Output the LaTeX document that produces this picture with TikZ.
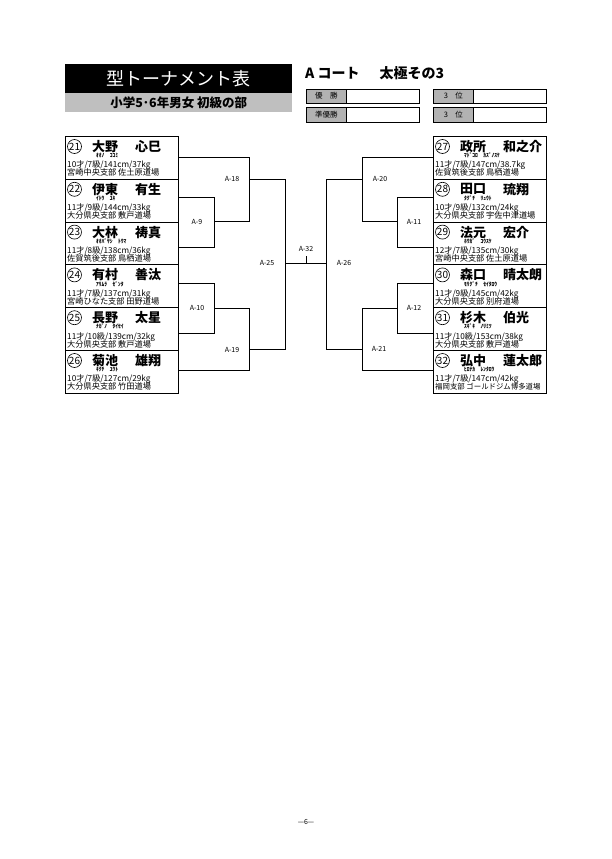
\documentclass[tikz,border=0pt]{standalone}
\usepackage{fontspec}
\setmainfont{Noto Sans CJK JP}
\usetikzlibrary{calc}
\newcommand{\fsz}[1]{\fontsize{#1bp}{#1bp}\selectfont}
\tikzset{
  x=1bp, y=-1bp,
  entry/.style={draw, line width=0.8bp, minimum width=113bp, minimum height=42.8bp, inner sep=0, anchor=north west},
  num/.style={draw, circle, line width=0.6bp, minimum size=14bp, inner sep=0, font=\fsz{10}},
  nm/.style={anchor=west, inner sep=0, font=\fsz{13}\bfseries},
  furi/.style={anchor=west, inner sep=0, font=\fsz{5.5}\bfseries},
  stat/.style={anchor=west, inner sep=0, font=\fsz{8.2}},
  dojo/.style={anchor=west, inner sep=0, font=\fsz{8.2}},
  br/.style={line width=0.6bp},
  mlabel/.style={font=\fsz{7}, inner sep=0},
  reslab/.style={draw, line width=0.7bp, fill=black!30, minimum width=40bp, minimum height=14.5bp, inner sep=0, anchor=north west, font=\fsz{7.5}},
  resval/.style={draw, line width=0.7bp, fill=white, minimum width=73bp, minimum height=14.5bp, inner sep=0, anchor=north west},
}
% #1 name, #2 x, #3 y, #4 number, #5 surname, #6 given, #7 furigana, #8 stats, #9 dojo
\newcommand{\entrybox}[9]{%
  \node[entry] (#1) at (#2,#3) {};
  \node[num] (#1c) at ($(#1.north west)+(9.5,10.5)$) {#4};
  \node[nm] (#1s) at ($(#1.north west)+(27,10.5)$) {#5};
  \node[nm] (#1g) at ($(#1.north west)+(70,10.5)$) {#6};
  \node[furi] (#1f) at ($(#1.north west)+(31,19.5)$) {#7};
  \node[stat] (#1t) at ($(#1.north west)+(2,29.5)$) {#8};
  \node[dojo] (#1d) at ($(#1.north west)+(2,36.8)$) {#9};
}
\begin{document}
\begin{tikzpicture}
\useasboundingbox (0,0) rectangle (612,859);
\fill[white] (0,0) rectangle (612,859);

% header
\node[fill=black, minimum width=227bp, minimum height=29bp, inner sep=0, anchor=north west,
      text=white, font=\fsz{18}] (title) at (65,64) {型トーナメント表};
\node[fill=black!25, minimum width=227bp, minimum height=19bp, inner sep=0, anchor=north west,
      font=\fsz{12.5}\bfseries] (subtitle) at (65,93) {小学5･6年男女 初級の部};
\node[anchor=west, inner sep=0, font=\fsz{14}\bfseries] (court) at (305,73) {A コート\hspace{20bp}太極その3};

\node[reslab] (r1l) at (306,88.5) {優　勝};
\node[resval] (r1v) at (346,88.5) {};
\node[reslab] (r2l) at (306,107) {準優勝};
\node[resval] (r2v) at (346,107) {};
\node[reslab] (r3l) at (433,88.5) {3　位};
\node[resval] (r3v) at (473,88.5) {};
\node[reslab] (r4l) at (433,107) {3　位};
\node[resval] (r4v) at (473,107) {};

% left entries
\entrybox{b21}{65}{136}{21}{大野}{心巳}{ｵｵﾉ　ｺｺﾐ}{10才/7級/141cm/37kg}{宮崎中央支部 佐土原道場}
\entrybox{b22}{65}{178.8}{22}{伊東}{有生}{ｲﾄｳ　ﾕｷ}{11才/9級/144cm/33kg}{大分県央支部 敷戸道場}
\entrybox{b23}{65}{221.6}{23}{大林}{祷真}{ｵｵﾊﾞﾔｼ　ﾄｳﾏ}{11才/8級/138cm/36kg}{佐賀筑後支部 鳥栖道場}
\entrybox{b24}{65}{264.4}{24}{有村}{善汰}{ｱﾘﾑﾗ　ｾﾞﾝﾀ}{11才/7級/137cm/31kg}{宮崎ひなた支部 田野道場}
\entrybox{b25}{65}{307.2}{25}{長野}{太星}{ﾅｶﾞﾉ　ﾀｲｾｲ}{11才/10級/139cm/32kg}{大分県央支部 敷戸道場}
\entrybox{b26}{65}{350}{26}{菊池}{雄翔}{ｷｸﾁ　ﾕｳﾄ}{10才/7級/127cm/29kg}{大分県央支部 竹田道場}

% right entries
\entrybox{b27}{433}{136}{27}{政所}{和之介}{ﾏﾄﾞｺﾛ　ｶｽﾞﾉｽｹ}{11才/7級/147cm/38.7kg}{佐賀筑後支部 鳥栖道場}
\entrybox{b28}{433}{178.8}{28}{田口}{琉翔}{ﾀｸﾞﾁ　ﾘｭｳﾄ}{10才/9級/132cm/24kg}{大分県央支部 宇佐中津道場}
\entrybox{b29}{433}{221.6}{29}{法元}{宏介}{ﾎｳｶﾞ　ｺｳｽｹ}{12才/7級/135cm/30kg}{宮崎中央支部 佐土原道場}
\entrybox{b30}{433}{264.4}{30}{森口}{晴太朗}{ﾓﾘｸﾞﾁ　ｾｲﾀﾛｳ}{11才/9級/145cm/42kg}{大分県央支部 別府道場}
\entrybox{b31}{433}{307.2}{31}{杉木}{伯光}{ｽｷﾞｷ　ﾉﾘﾐﾂ}{11才/10級/153cm/38kg}{大分県央支部 敷戸道場}
\entrybox{b32}{433}{350}{32}{弘中}{蓮太郎}{ﾋﾛﾅｶ　ﾚﾝﾀﾛｳ}{11才/7級/147cm/42kg}{\fsz{7.4}福岡支部 ゴールドジム博多道場}

% bracket junctions, left
\coordinate (a18t) at (249,157);
\coordinate (a18b) at (249,221);
\coordinate (a9t) at (214,197);
\coordinate (a9b) at (214,247);
\coordinate (a25t) at (285,179);
\coordinate (a25b) at (285,349);
\coordinate (a10t) at (214,283);
\coordinate (a10b) at (214,333);
\coordinate (a19t) at (249,308);
\coordinate (a19b) at (249,370);
% right
\coordinate (a20t) at (362.5,157);
\coordinate (a20b) at (362.5,221);
\coordinate (a11t) at (397.5,197);
\coordinate (a11b) at (397.5,247);
\coordinate (a26t) at (326.5,179);
\coordinate (a26b) at (326.5,349);
\coordinate (a12t) at (397.5,283);
\coordinate (a12b) at (397.5,333);
\coordinate (a21t) at (362.5,308);
\coordinate (a21b) at (362.5,370);
% final
\coordinate (a32l) at (285,263);
\coordinate (a32r) at (326.5,263);
\coordinate (a32k) at (306,263);
\coordinate (a32kt) at (306,256);

% left connectors
\draw[br] (b21.east |- a18t) -- (a18t) -- (a18b) -- (a9t |- a18b);
\draw[br] (b22.east |- a9t) -- (a9t) -- (a9b) -- (b23.east |- a9b);
\draw[br] (a18t |- a25t) -- (a25t) -- (a25b) -- (a19t |- a25b);
\draw[br] (b24.east |- a10t) -- (a10t) -- (a10b) -- (b25.east |- a10b);
\draw[br] (a10t |- a19t) -- (a19t) -- (a19b) -- (b26.east |- a19b);
% right connectors
\draw[br] (b27.west |- a20t) -- (a20t) -- (a20b) -- (a11t |- a20b);
\draw[br] (b28.west |- a11t) -- (a11t) -- (a11b) -- (b29.west |- a11b);
\draw[br] (a20t |- a26t) -- (a26t) -- (a26b) -- (a21t |- a26b);
\draw[br] (b30.west |- a12t) -- (a12t) -- (a12b) -- (b31.west |- a12b);
\draw[br] (a12t |- a21t) -- (a21t) -- (a21b) -- (b32.west |- a21b);
% final
\draw[br] (a32l) -- (a32r);
\draw[br] (a32k) -- (a32kt);

% match labels
\node[mlabel] (l18) at (232,179) {A-18};
\node[mlabel] (l9) at (197,222) {A-9};
\node[mlabel] (l10) at (197,308) {A-10};
\node[mlabel] (l19) at (232,350) {A-19};
\node[mlabel] (l25) at (267,263) {A-25};
\node[mlabel] (l32) at (306,249) {A-32};
\node[mlabel] (l26) at (344,263) {A-26};
\node[mlabel] (l20) at (380,179) {A-20};
\node[mlabel] (l11) at (414,222) {A-11};
\node[mlabel] (l12) at (414,308) {A-12};
\node[mlabel] (l21) at (379,349) {A-21};

% footer
\node[font=\fsz{7}, inner sep=0] (page) at (306,822) {—6—};
\end{tikzpicture}
\end{document}
